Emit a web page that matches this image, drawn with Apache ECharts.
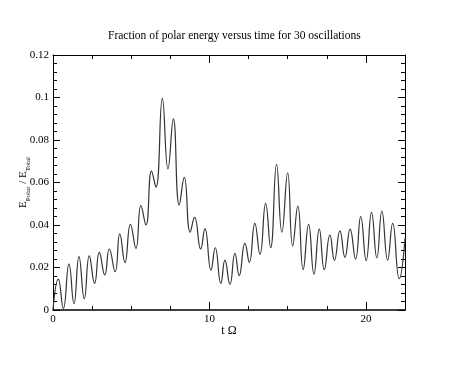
<!DOCTYPE html>
<html>
<head>
<meta charset="utf-8">
<script src="https://cdn.jsdelivr.net/npm/echarts@6/dist/echarts.min.js"></script>
<style>
html, body { margin: 0; padding: 0; background: #fff; }
#chart { width: 469px; height: 376px; }
</style>
</head>
<body>
<div id="chart"></div>
<script>
// peaks and troughs of the curve
var tOmega = [0, 0.34, 0.66, 1.02, 1.34, 1.66, 2.0, 2.32, 2.66, 2.96, 3.31, 3.6, 3.97, 4.27, 4.6, 4.95,
    5.3, 5.62, 5.94, 6.3, 6.58, 6.99, 7.35, 7.69, 8.07, 8.39, 8.77, 9.05, 9.44, 9.71, 10.1, 10.37,
    10.73, 10.99, 11.31, 11.63, 11.9, 12.27, 12.55, 12.9, 13.23, 13.59, 13.91, 14.29, 14.63, 15.0,
    15.32, 15.65, 15.99, 16.34, 16.68, 17.02, 17.34, 17.7, 17.99, 18.34, 18.66, 18.99, 19.34, 19.67,
    20.02, 20.36, 20.7, 21.02, 21.39, 21.71, 22.13, 22.5];
var polarFrac = [0, 0.0145, 0.0007, 0.0216, 0.003, 0.0251, 0.0053, 0.0255, 0.0125, 0.0271, 0.0165,
    0.0287, 0.018, 0.0358, 0.0223, 0.0403, 0.029, 0.0491, 0.040, 0.0654, 0.0578, 0.0996, 0.0664,
    0.0899, 0.0494, 0.0624, 0.0366, 0.0436, 0.0287, 0.0383, 0.0188, 0.0293, 0.0125, 0.0235, 0.0121,
    0.0267, 0.0162, 0.0314, 0.0224, 0.0408, 0.0262, 0.0502, 0.0293, 0.0686, 0.0366, 0.0646, 0.0301,
    0.0489, 0.019, 0.0403, 0.0169, 0.0381, 0.019, 0.0352, 0.0234, 0.0372, 0.0248, 0.0381, 0.024,
    0.0439, 0.0232, 0.0459, 0.0245, 0.0466, 0.0235, 0.0408, 0.0147, 0.0337];
var xLabels = [0, 10, 20];

var serif = 'Liberation Serif';
var pts = [];
for (var i = 0; i < tOmega.length; i++) pts.push([tOmega[i], polarFrac[i]]);

var box = { left: 53, right: 64, top: 55, bottom: 66, outerBoundsMode: 'none' };

function xAx(grid, pos, step, len, withLine, withLabel) {
    return {
        type: 'value', gridIndex: grid, position: pos, min: 0, max: 22.5, interval: step,
        splitLine: { show: false },
        axisLine: { show: withLine, onZero: false, lineStyle: { color: '#000', width: pos == 'bottom' ? 1.6 : 1 } },
        axisTick: { show: true, inside: true, length: len, lineStyle: { color: '#000', width: 1 } },
        axisLabel: {
            show: withLabel, margin: 4, fontFamily: serif, fontSize: 11, color: '#000',
            formatter: function (v) { return xLabels.indexOf(v) >= 0 ? String(v) : ''; }
        }
    };
}
function yAx(grid, pos, withLabel) {
    return {
        type: 'value', gridIndex: grid, position: pos, min: 0, max: 0.12, interval: 0.02,
        splitLine: { show: false },
        axisLine: { show: grid == 0, onZero: false, lineStyle: { color: '#000', width: 1 } },
        axisTick: { show: grid == 0, inside: true, length: 7, lineStyle: { color: '#000' } },
        minorTick: { show: grid == 0, splitNumber: 5, length: 4, lineStyle: { color: '#000' } },
        axisLabel: { show: withLabel, margin: 4, fontFamily: serif, fontSize: 11, color: '#000' }
    };
}

var xs = [xAx(0, 'bottom', 2.5, 4, true, true), xAx(0, 'top', 2.5, 4, true, false),
    xAx(1, 'bottom', 10, 8, false, false), xAx(1, 'top', 10, 8, false, false)];
xs[0].name = 't Ω';
xs[0].nameLocation = 'middle';
xs[0].nameGap = 15;
xs[0].nameMoveOverlap = false;
xs[0].nameTextStyle = { fontFamily: serif, fontSize: 12, color: '#000' };

var ys = [yAx(0, 'left', true), yAx(0, 'right', false), yAx(1, 'left', false), yAx(1, 'right', false)];
ys[0].name = '{n|E}{s|Polar}{n| / E}{s|Total}';
ys[0].nameLocation = 'middle';
ys[0].nameGap = 22;
ys[0].nameMoveOverlap = false;
ys[0].nameTextStyle = {
    rich: {
        n: { fontFamily: serif, fontSize: 11, color: '#000', lineHeight: 13, verticalAlign: 'top' },
        s: { fontFamily: serif, fontSize: 7, color: '#000', lineHeight: 7, padding: [7, 0, 0, 0], verticalAlign: 'top' }
    }
};

var myChart = echarts.init(document.getElementById('chart'));
myChart.setOption({
    backgroundColor: '#fff',
    animation: false,
    title: {
        text: 'Fraction of polar energy versus time for 30 oscillations',
        left: 103, top: 25,
        textStyle: { fontFamily: serif, fontSize: 11.5, fontWeight: 'normal', color: '#000' }
    },
    grid: [box, box],
    xAxis: xs,
    yAxis: ys,
    series: [{
        type: 'line',
        xAxisIndex: 0, yAxisIndex: 0,
        data: pts,
        smooth: 0.5,
        showSymbol: false,
        lineStyle: { color: '#333', width: 1.2 }
    }]
});
</script>
</body>
</html>
